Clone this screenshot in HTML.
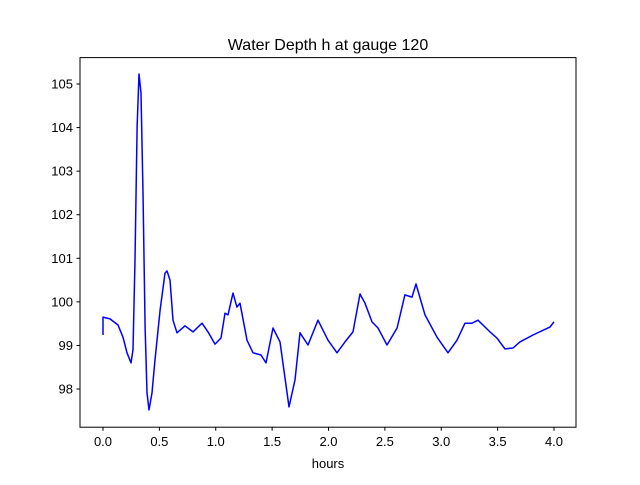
<!DOCTYPE html>
<html><head><meta charset="utf-8"><style>
body{margin:0;background:#fff}
svg{font-family:"Liberation Sans","DejaVu Sans",sans-serif}
</style></head><body>
<svg id="c" width="640" height="480" viewBox="0 0 640 480">
<rect width="640" height="480" fill="#fff"/>
<text x="328" y="50" text-anchor="middle" font-size="16">Water Depth h at gauge 120</text>
<g id="xt"></g>
<g id="yt"></g>
<polyline id="ln" fill="none" stroke="#0000ff" stroke-width="1.5" stroke-linejoin="round"/>
<rect x="80" y="57.6" width="496" height="369.6" fill="none" stroke="#000" stroke-width="1"/>
<text x="328" y="468" text-anchor="middle" font-size="13">hours</text>
</svg>
<script>
const hours=[0,0,0.062,0.133,0.177,0.213,0.248,0.266,0.284,0.302,0.319,0.337,0.355,0.373,0.390,0.408,0.435,0.461,0.506,0.550,0.568,0.594,0.621,0.656,0.727,0.798,0.878,0.931,0.993,1.047,1.082,1.109,1.153,1.188,1.215,1.277,1.330,1.401,1.446,1.508,1.570,1.650,1.703,1.747,1.818,1.907,1.996,2.075,2.146,2.217,2.279,2.324,2.386,2.439,2.519,2.608,2.678,2.741,2.776,2.856,2.962,3.060,3.140,3.211,3.273,3.326,3.432,3.494,3.565,3.636,3.698,3.814,3.964,4.0];
const depth=[99.24,99.65,99.61,99.47,99.19,98.83,98.60,98.90,100.96,104.01,105.23,104.79,102.50,99.42,97.91,97.52,97.91,98.67,99.81,100.66,100.71,100.50,99.58,99.29,99.45,99.31,99.51,99.31,99.03,99.17,99.74,99.70,100.20,99.88,99.97,99.12,98.83,98.78,98.60,99.40,99.08,97.59,98.21,99.29,99.01,99.58,99.12,98.83,99.08,99.31,100.18,99.97,99.54,99.40,99.01,99.40,100.16,100.11,100.41,99.70,99.19,98.83,99.12,99.51,99.51,99.58,99.31,99.17,98.92,98.94,99.08,99.24,99.42,99.54];
const xTicks=[0,0.5,1,1.5,2,2.5,3,3.5,4];
const xTickLabels=["0.0","0.5","1.0","1.5","2.0","2.5","3.0","3.5","4.0"];
const yTicks=[98,99,100,101,102,103,104,105];
const yTickLabels=["98","99","100","101","102","103","104","105"];
const X=t=>103+t*112.75;
const Y=h=>389-(h-98)*43.57;
const NS="http://www.w3.org/2000/svg";
const xt=document.getElementById('xt'),yt=document.getElementById('yt');
xTicks.forEach((v,i)=>{
 const l=document.createElementNS(NS,'line');
 l.setAttribute('x1',X(v));l.setAttribute('x2',X(v));l.setAttribute('y1',427.2);l.setAttribute('y2',430.7);l.setAttribute('stroke','#000');
 
 
 xt.appendChild(l);
 const t=document.createElementNS(NS,'text');
 t.setAttribute('x',X(v));t.setAttribute('y',446);t.setAttribute('text-anchor','middle');t.setAttribute('font-size','13');
 t.textContent=xTickLabels[i];
 
 
 xt.appendChild(t);
});
yTicks.forEach((v,i)=>{
 const l=document.createElementNS(NS,'line');
 l.setAttribute('x1',76.5);l.setAttribute('x2',80);l.setAttribute('y1',Y(v));l.setAttribute('y2',Y(v));l.setAttribute('stroke','#000');
 
 
 yt.appendChild(l);
 const t=document.createElementNS(NS,'text');
 t.setAttribute('x',73);t.setAttribute('y',Y(v)+4.5);t.setAttribute('text-anchor','end');t.setAttribute('font-size','13');
 t.textContent=yTickLabels[i];
 
 
 yt.appendChild(t);
});
document.getElementById('ln').setAttribute('points',hours.map((t,i)=>X(t).toFixed(1)+','+Y(depth[i]).toFixed(1)).join(' '));
</script>
</body></html>
